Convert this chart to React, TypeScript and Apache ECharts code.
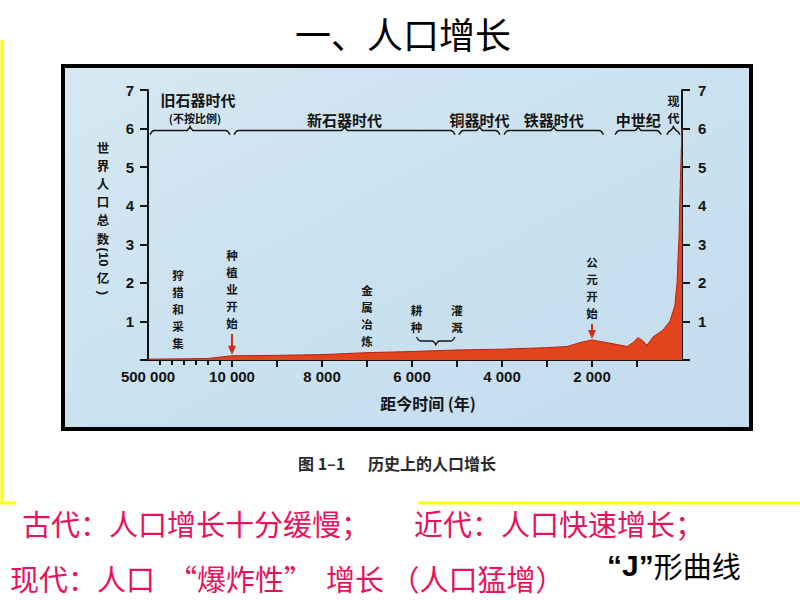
import React, { useEffect, useRef } from "react";
import * as echarts from "echarts";

// ---------- data ----------
// years before present and world population (billions)
const yearsBP = [500000, 430000, 290000, 150000, 10000, 9000, 8000, 7000, 6000, 5000, 4000, 3500, 3000, 2550, 2270, 2000, 1530, 1220, 1090, 980, 870, 780, 640, 420, 270, 160, 110, 90, 65, 45, 22, 0];
const population = [0.02, 0.025, 0.03, 0.04, 0.11, 0.12, 0.14, 0.19, 0.22, 0.26, 0.28, 0.3, 0.32, 0.35, 0.45, 0.52, 0.42, 0.35, 0.45, 0.58, 0.5, 0.38, 0.6, 0.78, 1.0, 1.4, 2.0, 2.6, 3.2, 4.3, 5.2, 6.0];

const majorTickYears = [10000, 9000, 8000, 7000, 6000, 5000, 4000, 3000, 2000, 1000];
const minorTickYears = [430000, 360000, 290000, 220000, 150000, 80000];
const xLabelYears = [500000, 10000, 8000, 6000, 4000, 2000];
const yTickValues = [1, 2, 3, 4, 5, 6, 7];

const eraNames = ["旧石器时代", "新石器时代", "铜器时代", "铁器时代", "中世纪", "现代"];
const eraStart = [500000, 10000, 5000, 4000, 1530, 380];
const eraEnd = [10000, 5000, 4000, 1700, 420, 0];

const eventNames = ["狩猎和采集", "种植业开始", "金属冶炼", "耕种", "灌溉", "公元开始"];
const eventYears = [325000, 10000, 7000, 5900, 5000, 2000];
const eventArrow = [false, true, false, false, false, true];

const yAxisName = ["世", "界", "人", "口", "总", "数"];

// ---------- scale: linear after 10 000 BP, compressed before ----------
const SPLIT = 10000;
const OLDEST = 500000;
const COMPRESSED = 1867;
const pos = (y: number) => (y >= SPLIT ? (-COMPRESSED * (y - SPLIT)) / (OLDEST - SPLIT) : SPLIT - y);
const invPos = (v: number) => (v < 0 ? SPLIT + (-v / COMPRESSED) * (OLDEST - SPLIT) : SPLIT - v);
const fmtYears = (y: number) => String(Math.round(y / 1000) * 1000).replace(/\B(?=(\d{3})+(?!\d))/g, " ");

const CJK = "'Noto Sans CJK SC', sans-serif";
const LAT = "'Liberation Sans', Arial, sans-serif";
const INK = "#141414";
const RED_TEXT = "#e8125c";
const ARROW = "#d42a1a";

// layout of annotation labels (pixel bottoms)
const eventLabelBottom = [351, 331, 349, 335, 335, 321];

export default function App() {
  const ref = useRef<HTMLDivElement>(null);

  useEffect(() => {
    if (!ref.current) return;
    const chart = echarts.init(ref.current, null, { renderer: "svg" });

    const yAxisCommon = {
      type: "value",
      min: 0,
      max: 7,
      interval: 1,
      splitLine: { show: false },
      axisLine: { show: true, onZero: false, lineStyle: { color: INK, width: 2 } },
      axisTick: { show: true, length: 8, lineStyle: { color: INK, width: 2 } },
    };

    chart.setOption({
      animation: false,
      backgroundColor: "transparent",
      grid: { left: 148, right: 118, top: 90, bottom: 240, containLabel: false },
      xAxis: [
        {
          type: "value",
          min: pos(OLDEST),
          max: SPLIT,
          position: "bottom",
          splitLine: { show: false },
          axisLine: { show: true, onZero: false, lineStyle: { color: INK, width: 2 } },
          axisTick: { show: true, length: 7, customValues: majorTickYears.map(pos), lineStyle: { color: INK, width: 2 } },
          axisLabel: {
            show: true,
            customValues: xLabelYears.map(pos),
            hideOverlap: false,
            margin: 9,
            color: INK,
            fontSize: 15,
            fontWeight: "bold",
            fontFamily: LAT,
            formatter: (v: number) => fmtYears(invPos(v)),
          },
        },
        {
          type: "value",
          min: pos(OLDEST),
          max: SPLIT,
          position: "bottom",
          splitLine: { show: false },
          axisLine: { show: false, onZero: false },
          axisTick: { show: true, length: 5, customValues: minorTickYears.map(pos), lineStyle: { color: INK, width: 2 } },
          axisLabel: { show: false },
        },
      ],
      yAxis: [
        {
          ...yAxisCommon,
          position: "left",
          axisLabel: {
            customValues: yTickValues,
            margin: 14,
            color: INK,
            fontSize: 15,
            fontWeight: "bold",
            fontFamily: LAT,
          },
        },
        {
          ...yAxisCommon,
          position: "right",
          axisLabel: {
            customValues: yTickValues,
            margin: 16,
            color: INK,
            fontSize: 15,
            fontWeight: "bold",
            fontFamily: LAT,
          },
        },
      ],
      series: [
        {
          type: "line",
          xAxisIndex: 0,
          yAxisIndex: 0,
          data: yearsBP.map((y, i) => [pos(y), population[i]]),
          showSymbol: false,
          symbol: "none",
          lineStyle: { color: "#b8220f", width: 1 },
          areaStyle: { color: "#e2441d", opacity: 1 },
          z: 3,
        },
      ],
    });

    const px = (year: number, v: number) => chart.convertToPixel({ seriesIndex: 0 }, [pos(year), v]) as number[];
    const pxX = (year: number) => px(year, 0)[0];
    const pxY = (v: number) => px(SPLIT, v)[1];

    const g: any[] = [];
    const txt = (x: number, y: number, text: string, font: string, fill: string, align = "center", valign = "middle", extra: any = {}) => {
      g.push({
        type: "text",
        z: 10,
        x,
        y,
        ...extra,
        style: { text, font, fill, textAlign: align, textVerticalAlign: valign },
      });
    };
    const vtxt = (x: number, bottom: number, text: string, size: number, step: number) => {
      g.push({
        type: "text",
        z: 10,
        x,
        y: bottom,
        style: {
          text: text.split("").join("\n"),
          font: `bold ${size}px ${CJK}`,
          lineHeight: step,
          fill: INK,
          textAlign: "center",
          textVerticalAlign: "bottom",
        },
      });
    };

    // figure frame
    g.push({
      type: "rect",
      z: -10,
      shape: { x: 63, y: 66, width: 688, height: 363 },
      style: {
        fill: new echarts.graphic.LinearGradient(0, 0, 1, 1, [
          { offset: 0, color: "#d6e9f3" },
          { offset: 0.5, color: "#cae1ef" },
          { offset: 1, color: "#c4dcee" },
        ]),
        stroke: "#000",
        lineWidth: 4,
      },
    });

    // yellow slide frame
    g.push({ type: "line", z: 5, shape: { x1: 2, y1: 40, x2: 2, y2: 503 }, style: { stroke: "#ffff00", lineWidth: 3 } });
    g.push({ type: "line", z: 5, shape: { x1: 0, y1: 503, x2: 16, y2: 503 }, style: { stroke: "#ffff00", lineWidth: 3 } });
    g.push({ type: "line", z: 5, shape: { x1: 418, y1: 503, x2: 800, y2: 503 }, style: { stroke: "#ffff00", lineWidth: 3 } });

    // slide title
    txt(403, 33, "一、人口增长", `normal 36px ${CJK}`, "#000");

    // figure caption
    txt(298, 463, "图 1–1", `bold 16px ${CJK}`, "#2a2a2a", "left");
    txt(368, 463, "历史上的人口增长", `bold 16px ${CJK}`, "#2a2a2a", "left");

    // bottom remarks
    txt(22, 523, "古代：人口增长十分缓慢；", `normal 29px ${CJK}`, RED_TEXT, "left");
    txt(414, 523, "近代：人口快速增长；", `normal 29px ${CJK}`, RED_TEXT, "left");
    txt(10, 578, "现代：人口  “爆炸性”  增长 （人口猛增）", `normal 29px ${CJK}`, RED_TEXT, "left");
    g.push({
      type: "text",
      z: 10,
      x: 607,
      y: 565,
      style: {
        text: "{q|“J”}{t|形曲线}",
        textAlign: "left",
        textVerticalAlign: "middle",
        rich: {
          q: { font: `bold 30px ${LAT}`, fill: "#000" },
          t: { font: `normal 29px ${CJK}`, fill: "#000" },
        },
      },
    });

    // y-axis name (vertical)
    yAxisName.forEach((ch, i) => {
      txt(103, 147 + i * 18.2, ch, `bold 12.5px ${CJK}`, INK);
    });
    txt(103, 257, "(10", `bold 13px ${LAT}`, INK, "center", "middle", { rotation: -Math.PI / 2 });
    txt(103, 277, "亿", `bold 12.5px ${CJK}`, INK);
    txt(103, 293, ")", `bold 13px ${LAT}`, INK, "center", "middle", { rotation: -Math.PI / 2 });

    // x-axis name
    txt(428, 403, "距今时间 (年)", `bold 16px ${CJK}`, INK);

    // era braces and labels
    const braceY = pxY(6) + 2;
    eraNames.forEach((name, i) => {
      const x1 = pxX(eraStart[i]) + 2;
      const x2 = pxX(eraEnd[i]) - 2;
      const xm = (x1 + x2) / 2;
      g.push({
        type: "polyline",
        z: 10,
        shape: {
          points: [
            [x1, braceY + 4],
            [x1 + 2, braceY + 1],
            [x1 + 4, braceY],
            [xm - 3, braceY],
            [xm - 1, braceY - 2],
            [xm, braceY - 4],
            [xm + 1, braceY - 2],
            [xm + 3, braceY],
            [x2 - 4, braceY],
            [x2 - 2, braceY + 1],
            [x2, braceY + 4],
          ],
        },
        style: { stroke: INK, lineWidth: 1.5, fill: null },
      });
      const narrow = x2 - x1 < 30;
      if (i === 0) {
        txt(xm + 8, braceY - 31, name, `bold 15px ${CJK}`, INK);
        txt(xm + 5, braceY - 13, "(不按比例)", `bold 11px ${CJK}`, INK);
      } else if (narrow) {
        vtxt(xm, braceY - 4, name, 12, 17.6);
      } else {
        txt(xm, braceY - 11, name, `bold 15px ${CJK}`, INK);
      }
    });

    // event labels and arrows
    eventNames.forEach((name, i) => {
      const x = pxX(eventYears[i]);
      const bottom = eventLabelBottom[i];
      vtxt(x, bottom, name, 11.5, 16.8);
      if (eventArrow[i]) {
        const idx = yearsBP.indexOf(eventYears[i]);
        const tip = px(eventYears[i], population[idx])[1] - 1;
        const top = bottom + 3;
        g.push({ type: "line", z: 11, shape: { x1: x, y1: top, x2: x, y2: tip - 6 }, style: { stroke: ARROW, lineWidth: 2 } });
        g.push({
          type: "polygon",
          z: 11,
          shape: { points: [[x - 4, tip - 9], [x + 4, tip - 9], [x, tip]] },
          style: { fill: ARROW },
        });
      }
    });

    // brace under 耕种 / 灌溉
    {
      const x1 = pxX(eventYears[3]);
      const x2 = pxX(eventYears[4]) - 2;
      const xm = (x1 + x2) / 2;
      const yb = 341;
      g.push({
        type: "polyline",
        z: 10,
        shape: {
          points: [
            [x1, yb - 4],
            [x1 + 2, yb - 1],
            [x1 + 4, yb],
            [xm - 3, yb],
            [xm - 1, yb + 2],
            [xm, yb + 4],
            [xm + 1, yb + 2],
            [xm + 3, yb],
            [x2 - 4, yb],
            [x2 - 2, yb - 1],
            [x2, yb - 4],
          ],
        },
        style: { stroke: INK, lineWidth: 1.3, fill: null },
      });
    }

    chart.setOption({ graphic: { elements: g } });

    return () => chart.dispose();
  }, []);

  return (
    <div
      ref={ref}
      style={{ position: "fixed", left: 0, top: 0, width: 800, height: 600, background: "#ffffff" }}
    />
  );
}
